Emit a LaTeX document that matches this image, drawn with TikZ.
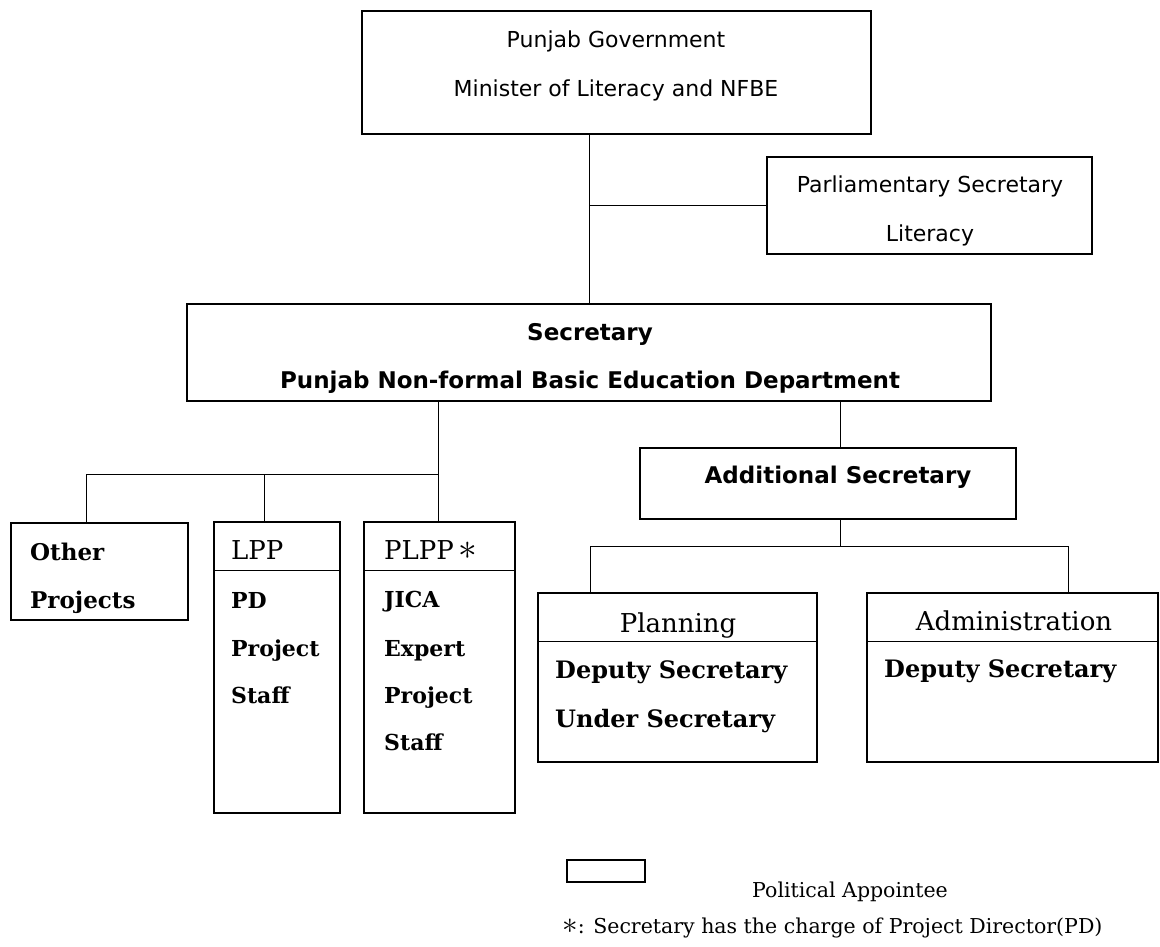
\documentclass[tikz,border=0pt]{standalone}
\usepackage{fontspec}
\setmainfont{DejaVu Serif}
\newfontfamily\sansfont{DejaVu Sans}
\newcommand{\pdmark}{\scalebox{1.5}{$\ast$}}
\tikzset{
  box/.style={draw,line width=1.3pt,inner sep=0pt},
  link/.style={line width=1pt},
  sans/.style={inner sep=0pt,anchor=base,font=\sansfont\fontsize{22}{26}\selectfont},
  sansbf/.style={inner sep=0pt,anchor=base,font=\sansfont\bfseries\fontsize{23}{27}\selectfont},
  head/.style={inner sep=0pt,anchor=base west,font=\fontsize{26}{30}\selectfont},
  body/.style={inner sep=0pt,anchor=base west,font=\bfseries\fontsize{22}{26}\selectfont},
  bigbody/.style={body,font=\bfseries\fontsize{24}{28}\selectfont},
  note/.style={inner sep=0pt,anchor=base west,font=\fontsize{20.5}{24}\selectfont}
}
\begin{document}
\begin{tikzpicture}[x=1pt,y=-1pt]
\useasboundingbox (0,0) rectangle (1160,947);
% boxes
\node[box,minimum width=509,minimum height=123] (gov) at (616.5,72.5) {};
\node[box,minimum width=325,minimum height=97] (parl) at (929.5,205.5) {};
\node[box,minimum width=804,minimum height=97] (sec) at (589,352.5) {};
\node[box,minimum width=376,minimum height=71] (asec) at (828,483.5) {};
\node[box,minimum width=177,minimum height=97] (other) at (99.5,571.5) {};
\node[box,minimum width=126,minimum height=291] (lpp) at (277,667.5) {};
\node[box,minimum width=151,minimum height=291] (plpp) at (439.5,667.5) {};
\node[box,minimum width=279,minimum height=169] (plan) at (677.5,677.5) {};
\node[box,minimum width=291,minimum height=169] (adm) at (1012.5,677.5) {};
\node[box,minimum width=78,minimum height=22] (key) at (606,871) {};
\foreach \b in {lpp,plpp,plan,adm}
  \draw[line width=1.3pt] ([yshift=-49pt]\b.north west) -- ([yshift=-49pt]\b.north east);
% texts
\node[sans] (govA) at (616,48) {Punjab Government};
\node[sans] (govB) at (616,97) {Minister of Literacy and NFBE};
\node[sans] (parlA) at (930,193) {Parliamentary Secretary};
\node[sans] (parlB) at (930,241) {Literacy};
\node[sansbf] (secA) at (590,340) {Secretary};
\node[sansbf] (secB) at (590,388) {Punjab Non-formal Basic Education Department};
\node[sansbf] (asecA) at (838,483) {Additional Secretary};
\node[body,font=\bfseries\fontsize{23}{27}\selectfont] (otherA) at (30,560) {Other};
\node[body,font=\bfseries\fontsize{23}{27}\selectfont] (otherB) at (30,608) {Projects};
\node[head] (lppA) at (231,559) {LPP};
\node[body] (lppB) at (231,608) {PD};
\node[body] (lppC) at (231,656) {Project};
\node[body] (lppD) at (231,703) {Staff};
\node[head] (plppA) at (384,559) {PLPP\,\pdmark};
\node[body] (plppB) at (384,607) {JICA};
\node[body] (plppC) at (384,656) {Expert};
\node[body] (plppD) at (384,703) {Project};
\node[body] (plppE) at (384,750) {Staff};
\node[head,anchor=base] (planA) at (678,632) {Planning};
\node[bigbody] (planB) at (555,678) {Deputy Secretary};
\node[bigbody] (planC) at (555,727) {Under Secretary};
\node[head,anchor=base] (admA) at (1014,630) {Administration};
\node[bigbody] (admB) at (884,677) {Deputy Secretary};
\node[note] (keyA) at (752,897) {Political Appointee};
\node[note] (keyB) at (562,933) {\pdmark: Secretary has the charge of Project Director(PD)};
% connectors
\coordinate (pj) at (438,474);
\coordinate (oj) at (86,474);
\coordinate (lj) at (264,474);
\coordinate (aj) at (840,546);
\coordinate (pl) at (590,546);
\coordinate (ad) at (1068,546);
\draw[link] (gov.south -| sec.north) -- (sec.north);
\draw[link] (parl.west) -- (parl.west -| sec.north);
\draw[link] (sec.south -| pj) -- (pj |- plpp.north);
\draw[link] (pj) -- (oj) -- (oj |- other.north);
\draw[link] (lj) -- (lj |- lpp.north);
\draw[link] (sec.south -| aj) -- (aj |- asec.north);
\draw[link] (asec.south -| aj) -- (aj);
\draw[link] (pl |- plan.north) -- (pl) -- (ad) -- (ad |- adm.north);
\end{tikzpicture}
\end{document}
